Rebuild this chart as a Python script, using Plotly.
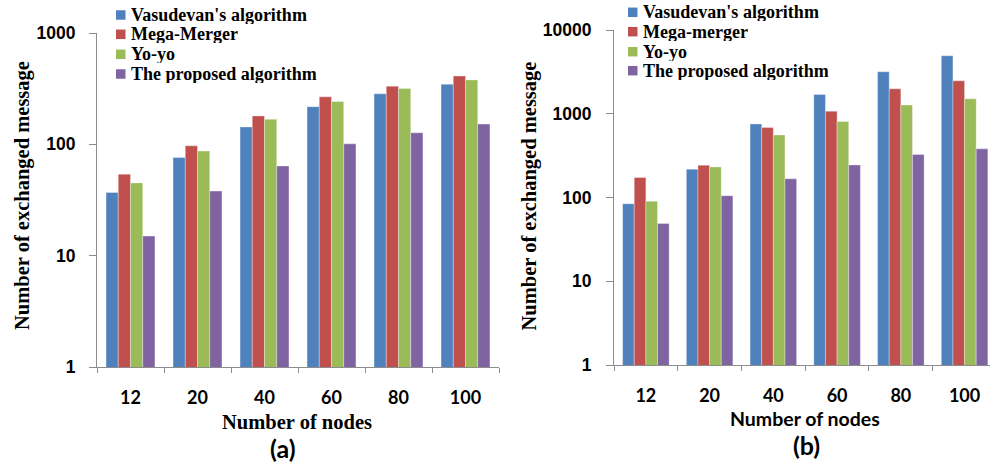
import plotly.graph_objects as go

# Number of nodes in the network (categories on both panels)
nodes = ["12", "20", "40", "60", "80", "100"]

series_a = ["Vasudevan's algorithm", "Mega-Merger", "Yo-yo", "The proposed algorithm"]
series_b = ["Vasudevan's algorithm", "Mega-merger", "Yo-yo", "The proposed algorithm"]
colors = ["#4F81BD", "#C0504D", "#9BBB59", "#8064A2"]

# Panel (a): exchanged messages
vasudevan_a = [37, 76, 143, 218, 284, 347]
megamerger_a = [54, 97, 180, 267, 333, 411]
yoyo_a = [45, 87, 168, 242, 317, 379]
proposed_a = [15, 38, 64, 101, 127, 152]

# Panel (b): exchanged messages
vasudevan_b = [84, 218, 757, 1695, 3170, 4920]
megamerger_b = [173, 243, 684, 1074, 1983, 2472]
yoyo_b = [90, 232, 559, 807, 1268, 1507]
proposed_b = [49, 105, 167, 245, 326, 381]

ticks_a = [1, 10, 100, 1000]
ticks_b = [1, 10, 100, 1000, 10000]

W, H = 990, 465


def px(x):
    return x / W


def py(y):
    return 1 - y / H


fig = go.Figure()

for name, col, vals in zip(series_a, colors,
                           [vasudevan_a, megamerger_a, yoyo_a, proposed_a]):
    fig.add_trace(go.Bar(x=nodes, y=vals, name=name, marker_color=col,
                         marker_line=dict(color="rgba(255,255,255,0.55)", width=0.6),
                         xaxis="x", yaxis="y", showlegend=False))

for name, col, vals in zip(series_b, colors,
                           [vasudevan_b, megamerger_b, yoyo_b, proposed_b]):
    fig.add_trace(go.Bar(x=nodes, y=vals, name=name, marker_color=col,
                         marker_line=dict(color="rgba(255,255,255,0.55)", width=0.6),
                         xaxis="x2", yaxis="y2", showlegend=False))

axis_col = "#8c8c8c"
ytick_font = dict(family="Liberation Sans, Arial", size=17.5, color="black", weight="bold")
xtick_font = dict(family="Lato, Calibri, sans-serif", size=18, color="black", weight="bold")

common_x = dict(type="category", showline=True, linecolor=axis_col, linewidth=1,
                ticks="outside", ticklen=5, tickcolor=axis_col, tickson="boundaries",
                showgrid=False, zeroline=False, tickfont=xtick_font,
                ticklabelstandoff=14, fixedrange=True, automargin=False)
common_y = dict(type="log", showline=True, linecolor=axis_col, linewidth=1,
                ticks="outside", ticklen=7, tickcolor=axis_col, showgrid=False,
                zeroline=False, tickfont=ytick_font, fixedrange=True, automargin=False)

fig.update_layout(
    width=W, height=H, autosize=False,
    margin=dict(l=0, r=0, t=0, b=0, pad=0, autoexpand=False),
    paper_bgcolor="white", plot_bgcolor="white",
    barmode="group", bargap=0.27, bargroupgap=0,
    xaxis=dict(common_x, domain=[px(97), px(499)], range=[-0.5, 5.5], anchor="y"),
    yaxis=dict(common_y, domain=[py(367), py(33)], range=[0, 3], anchor="x",
               tickvals=ticks_a, ticktext=[str(t) for t in ticks_a],
               ticklabelstandoff=10),
    xaxis2=dict(common_x, domain=[px(614), 1], range=[-0.5, -0.5 + 376 / 63.74],
                anchor="y2"),
    yaxis2=dict(common_y, domain=[py(365), py(30)], range=[0, 4], anchor="x2",
                tickvals=ticks_b, ticktext=[str(t) for t in ticks_b],
                ticklabelstandoff=11),
)

serif_bold = dict(family="Liberation Serif, Times New Roman", color="black", weight="bold")
calibri_bold = dict(family="Lato, Calibri, sans-serif", color="black", weight="bold")

annotations = []
shapes = []


def add_text(text, x, y, font, size, angle=0, xanchor="center", box_h=None):
    ann = dict(text=text, x=px(x), y=py(y), xref="paper", yref="paper",
               showarrow=False, xanchor=xanchor, yanchor="middle",
               textangle=angle, font=dict(font, size=size))
    if box_h is not None:
        ann["height"] = box_h
    annotations.append(ann)


# Axis titles and panel labels
add_text("Number of exchanged message", 22.5, 195.5, serif_bold, 20.5, angle=-90)
add_text("Number of exchanged message", 529, 196.5, serif_bold, 20.5, angle=-90)
add_text("Number of nodes", 296.5, 422, serif_bold, 20.5)
add_text("Number of nodes", 805, 418, calibri_bold, 19.5)
add_text("(a)", 283, 448, calibri_bold, 25)
add_text("(b)", 806, 445, calibri_bold, 25)

# Legends
legend_rows_a = [15, 34.3, 54.3, 74]
legend_rows_b = [12.3, 31.7, 51.7, 70.7]
for names, rows, sq_x, txt_x in [(series_a, legend_rows_a, 116, 129),
                                 (series_b, legend_rows_b, 628, 640.5)]:
    for name, col, yc in zip(names, colors, rows):
        shapes.append(dict(type="rect", xref="paper", yref="paper",
                           x0=px(sq_x), x1=px(sq_x + 9.5),
                           y0=py(yc + 4.75), y1=py(yc - 4.75),
                           fillcolor=col, line=dict(width=0)))
        add_text(name, txt_x, yc, serif_bold, 18, xanchor="left", box_h=18)

fig.update_layout(annotations=annotations, shapes=shapes)

fig.write_html("out.html")
